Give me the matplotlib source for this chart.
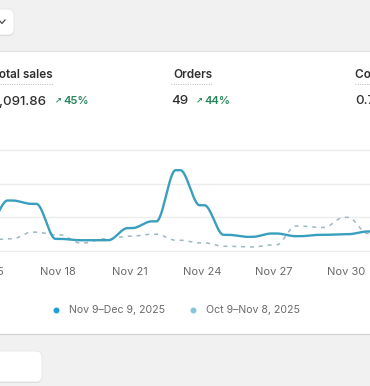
import numpy as np
import matplotlib
matplotlib.use('Agg')
import matplotlib.pyplot as plt
import matplotlib.transforms as mtransforms
from matplotlib.patches import FancyBboxPatch, Rectangle

plt.rcParams['font.family'] = ['Inter', 'DejaVu Sans']

# data (day of month, Dec 1 = 31)
days = list(range(15, 33))
current = [37, 75, 70, 18, 16, 16, 34, 44, 120, 68, 24, 21, 26, 22, 24, 25, 29, 32]
previous = [16, 18, 28, 24, 12, 18, 22, 25, 16, 12, 7, 6, 9, 37, 35, 50, 26, 19]
tick_days = [15, 18, 21, 24, 27, 30]
tick_labels = ['Nov 15', 'Nov 18', 'Nov 21', 'Nov 24', 'Nov 27', 'Nov 30']
legend_labels = ['Nov 9\u2013Dec 9, 2025', 'Oct 9\u2013Nov 8, 2025']
metric_names = ['Total sales', 'Orders', 'Conversion rate']
metric_values = ['$1,091.86', '49', '0.71%']
metric_changes = ['45%', '44%', '']

W, H = 370, 386
col_cur = '#3a9fbd'
col_prev = '#9db8c2'
text_gray = '#6b6b6b'
green = '#29845a'


def rounded_step(x, y, n=40, a=0.1):	# flat at each day, smooth S between days
	x = np.asarray(x, float)
	y = np.asarray(y, float)
	xs, ys = [], []
	for k in range(len(x) - 1):
		t = np.linspace(0, 1, n)
		s = np.clip((t - a) / (1 - 2 * a), 0, 1)
		f = s * s * (3 - 2 * s)
		xs.extend(x[k] + t * (x[k + 1] - x[k]))
		ys.extend(y[k] + f * (y[k + 1] - y[k]))
	return np.array(xs), np.array(ys)


fig = plt.figure(figsize=(W / 100, H / 100), dpi=100)
fig.patch.set_facecolor('#f1f1f1')

# background layer in pixel coords
bg = fig.add_axes([0, 0, 1, 1])
bg.set_xlim(0, W)
bg.set_ylim(H, 0)
bg.axis('off')

bg.add_patch(Rectangle((-20, 51), W + 40, 283, facecolor='white', edgecolor='none'))
bg.plot([-20, W + 20], [51, 51], color='#e3e3e3', lw=0.8)
bg.plot([-20, W + 20], [334, 334], color='#d2d2d2', lw=0.9)

for (x0, y0, w, h) in [(-20, 9, 34, 26), (-20, 351, 62, 31)]:
	bg.add_patch(FancyBboxPatch((x0, y0 + 1), w, h, boxstyle='round,pad=0,rounding_size=6',
		facecolor='#d6d6d6', edgecolor='none'))
	bg.add_patch(FancyBboxPatch((x0, y0), w, h, boxstyle='round,pad=0,rounding_size=6',
		facecolor='white', edgecolor='#e6e6e6', lw=0.6))
bg.plot([-1, 2, 5], [20, 23.5, 20], color='#4a4a4a', lw=0.9)

# metric header
name_right = [53, 213, None]
name_left = [None, None, 355]
for i, name in enumerate(metric_names):
	if name_right[i] is not None:
		bg.text(name_right[i], 75, name, ha='right', va='center', fontsize=8.5,
			fontweight='semibold', color='#303030')
		x1 = name_right[i]
		x0 = max(0, x1 - 60) if i == 0 else 171
	else:
		bg.text(name_left[i], 75, name, ha='left', va='center', fontsize=8.5,
			fontweight='semibold', color='#303030')
		x0, x1 = 355, 380
	bg.plot([x0, x1], [83.5, 83.5], color='#b8b8b8', lw=0.7, ls=(0, (1, 1.4)))

value_pos = [(46, 'right'), (171, 'left'), (355, 'left')]
change_pos = [55, 196, None]
for i, val in enumerate(metric_values):
	x, ha = value_pos[i]
	bg.text(x, 100.5, val, ha=ha, va='center', fontsize=9.6, fontweight='medium', color='#303030')
	if change_pos[i] is not None:
		bg.text(change_pos[i], 100, '\u2197', ha='left', va='center', fontsize=6,
			fontweight='bold', color=green, family='DejaVu Sans')
		bg.text(change_pos[i] + 8.5, 100.5, metric_changes[i], ha='left', va='center',
			fontsize=8, fontweight='semibold', color=green)

# chart
ax = fig.add_axes([0, (H - 260) / H, 1, 120 / H])
ax.set_xlim(18 - 58 / 24, 18 + 312 / 24)
step_px = 33.67
ax.set_ylim((251 - 260) / step_px * 50, (251 - 140) / step_px * 50)
ax.set_facecolor('none')
for s in ax.spines.values():
	s.set_visible(False)
ax.set_yticks([0, 50, 100, 150])
ax.set_xticks([])
ax.tick_params(left=False, labelleft=False)
ax.grid(axis='y', color='#ececec', lw=1.0)

px, py = rounded_step(days, previous)
ax.plot(px, py, color=col_prev, lw=1.1, dashes=(2.6, 3.2), solid_capstyle='round')
cx, cy = rounded_step(days, current)
ax.plot(cx, cy, color=col_cur, lw=1.7, solid_capstyle='round', solid_joinstyle='round')

tr = mtransforms.blended_transform_factory(ax.transData, bg.transData)
for d, lab in zip(tick_days, tick_labels):
	ax.text(d, 272, lab, transform=tr, ha='center', va='center', fontsize=8, color=text_gray)

# legend
leg_dot = [56, 193]
leg_cols = ['#1f9fd6', '#86c7dc']
for x, c, lab in zip(leg_dot, leg_cols, legend_labels):
	bg.plot([x], [310], 'o', ms=4.3, color=c, mec='none')
	bg.text(x + 13, 310, lab, ha='left', va='center', fontsize=7.6, color=text_gray)

fig.savefig('out.png', dpi=100, facecolor=fig.get_facecolor())
